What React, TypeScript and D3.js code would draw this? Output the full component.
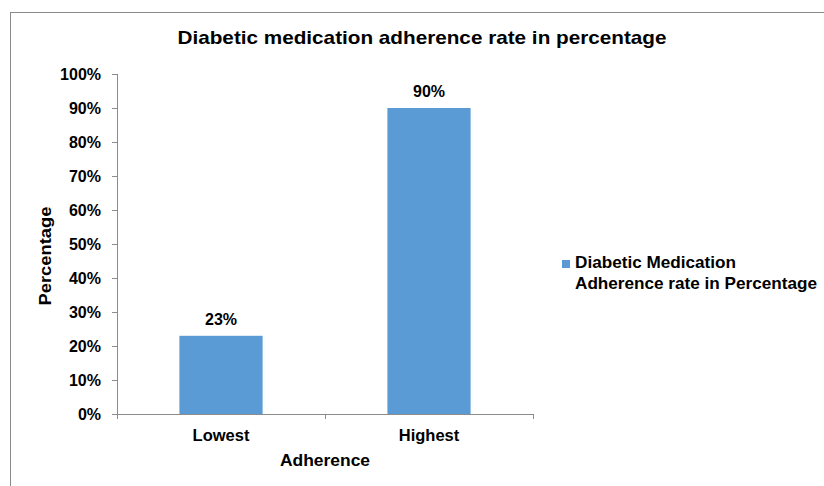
import { useEffect, useRef } from "react"
import * as d3 from "d3"

const categories = ["Lowest", "Highest"]
const values = [23, 90]
const yTicks = [0, 10, 20, 30, 40, 50, 60, 70, 80, 90, 100]
const seriesName = ["Diabetic Medication", "Adherence rate in Percentage"]
const legendWidths = [161, 242]

const W = 824
const H = 486
const BAR = "#5b9bd5"
const AXIS = "#8c8c8c"
const FONT = "'Liberation Sans', Arial, sans-serif"

export default function App() {
  const ref = useRef<SVGSVGElement>(null)

  useEffect(() => {
    const svg = d3.select(ref.current)
    svg.selectAll("*").remove()

    const plot = { left: 117, right: 533, top: 74, bottom: 414 }

    const x = d3.scaleBand<string>()
      .domain(categories)
      .range([plot.left, plot.right])
      .paddingInner(0.6)
      .paddingOuter(0.3)
    const y = d3.scaleLinear().domain([0, 100]).range([plot.bottom, plot.top])

    // outer frame
    svg.append("rect")
      .attr("x", 10.5).attr("y", 12.5)
      .attr("width", W).attr("height", H)
      .attr("fill", "white")
      .attr("stroke", "#8a8a8a")

    svg.append("text")
      .attr("x", 422).attr("y", 44)
      .attr("text-anchor", "middle")
      .attr("font-family", FONT)
      .attr("font-weight", "bold")
      .attr("font-size", 18.5)
      .attr("textLength", 489)
      .attr("lengthAdjust", "spacingAndGlyphs")
      .attr("fill", "#000")
      .text("Diabetic medication adherence rate in percentage")

    // y axis
    const ya = svg.append("g")
    ya.append("line")
      .attr("x1", plot.left + 0.5).attr("x2", plot.left + 0.5)
      .attr("y1", plot.top).attr("y2", plot.bottom)
      .attr("stroke", AXIS)
    ya.selectAll("line.tick").data(yTicks).join("line")
      .attr("class", "tick")
      .attr("x1", plot.left - 5).attr("x2", plot.left)
      .attr("y1", (d) => Math.round(y(d)) + 0.5).attr("y2", (d) => Math.round(y(d)) + 0.5)
      .attr("stroke", AXIS)
    ya.selectAll("text").data(yTicks).join("text")
      .attr("x", plot.left - 16).attr("y", (d) => y(d) + 5.8)
      .attr("text-anchor", "end")
      .attr("font-family", FONT)
      .attr("font-weight", "bold")
      .attr("font-size", 16)
      .text((d) => `${d}%`)

    // bars
    svg.append("g").selectAll("rect").data(values).join("rect")
      .attr("x", (_, i) => x(categories[i])!)
      .attr("width", x.bandwidth())
      .attr("y", (d) => y(d))
      .attr("height", (d) => plot.bottom - y(d))
      .attr("fill", BAR)

    svg.append("g").selectAll("text").data(values).join("text")
      .attr("x", (_, i) => x(categories[i])! + x.bandwidth() / 2)
      .attr("y", (d) => y(d) - 11)
      .attr("text-anchor", "middle")
      .attr("font-family", FONT)
      .attr("font-weight", "bold")
      .attr("font-size", 16)
      .text((d) => `${d}%`)

    // x axis
    const step = (plot.right - plot.left) / categories.length
    const xa = svg.append("g")
    xa.append("line")
      .attr("x1", plot.left - 5).attr("x2", plot.right)
      .attr("y1", plot.bottom + 0.5).attr("y2", plot.bottom + 0.5)
      .attr("stroke", AXIS)
    xa.selectAll("line.tick").data(d3.range(categories.length + 1)).join("line")
      .attr("class", "tick")
      .attr("x1", (i) => Math.round(plot.left + i * step) + 0.5)
      .attr("x2", (i) => Math.round(plot.left + i * step) + 0.5)
      .attr("y1", plot.bottom).attr("y2", plot.bottom + 5)
      .attr("stroke", AXIS)
    xa.selectAll("text").data(categories).join("text")
      .attr("x", (d) => x(d)! + x.bandwidth() / 2)
      .attr("y", 441)
      .attr("text-anchor", "middle")
      .attr("font-family", FONT)
      .attr("font-weight", "bold")
      .attr("font-size", 16.5)
      .text((d) => d)

    svg.append("text")
      .attr("x", (plot.left + plot.right) / 2).attr("y", 466)
      .attr("text-anchor", "middle")
      .attr("font-family", FONT)
      .attr("font-weight", "bold")
      .attr("font-size", 16.5)
      .attr("textLength", 90)
      .attr("lengthAdjust", "spacingAndGlyphs")
      .text("Adherence")

    svg.append("text")
      .attr("transform", `translate(51, 256) rotate(-90)`)
      .attr("text-anchor", "middle")
      .attr("font-family", FONT)
      .attr("font-weight", "bold")
      .attr("font-size", 16.5)
      .attr("textLength", 99)
      .attr("lengthAdjust", "spacingAndGlyphs")
      .text("Percentage")

    // legend
    const lg = svg.append("g")
    lg.append("rect")
      .attr("x", 562).attr("y", 260).attr("width", 8).attr("height", 8)
      .attr("fill", BAR)
    lg.selectAll("text").data(seriesName).join("text")
      .attr("x", 575).attr("y", (_, i) => 268 + i * 21)
      .attr("font-family", FONT)
      .attr("font-weight", "bold")
      .attr("font-size", 16.3)
      .attr("textLength", (_, i) => legendWidths[i])
      .attr("lengthAdjust", "spacingAndGlyphs")
      .text((d) => d)
  }, [])

  return (
    <div style={{ position: "absolute", left: 0, top: 0 }}>
      <svg ref={ref} width={W} height={H} style={{ display: "block" }} />
    </div>
  )
}
